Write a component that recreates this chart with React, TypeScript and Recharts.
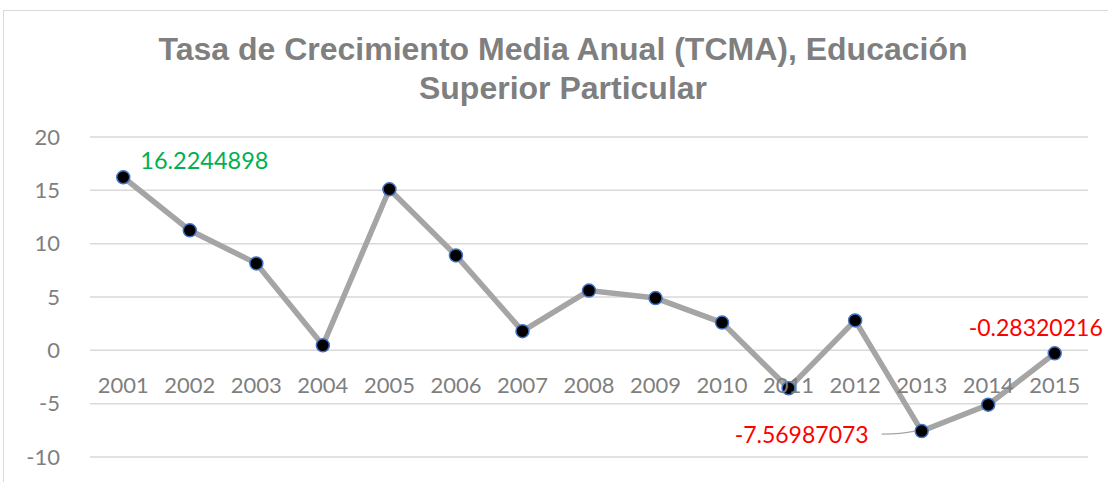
import React from 'react';
import {
  LineChart,
  Line,
  XAxis,
  YAxis,
  CartesianGrid,
  LabelList,
} from 'recharts';

const YEARS = [
  '2001', '2002', '2003', '2004', '2005', '2006', '2007', '2008',
  '2009', '2010', '2011', '2012', '2013', '2014', '2015',
];

const TCMA = [
  16.2244898, 11.25, 8.15, 0.47, 15.1, 8.9, 1.8, 5.6,
  4.9, 2.6, -3.56, 2.8, -7.56987073, -5.1, -0.28320216,
];

const Y_TICKS = [-10, -5, 0, 5, 10, 15, 20];

const data = YEARS.map((year, i) => ({ year, value: TCMA[i] }));

const AXIS_COLOR = '#7f7f7f';
const FONT = 'Lato, "Open Sans", sans-serif';

function YearTick(props: any) {
  const { x, y, payload } = props;
  return (
    <text
      x={x}
      y={y - 72}
      textAnchor="middle"
      fill={AXIS_COLOR}
      fontSize={22}
      fontFamily={FONT}
    >
      {payload.value}
    </text>
  );
}

// only three points carry a label, each placed like in the source sheet
function PointLabel(props: any) {
  const { x, y, index, value } = props;
  const text = String(value);
  if (index === 0) {
    return (
      <text x={x + 17} y={y - 8} fill="#00b050" fontSize={23.5} fontFamily={FONT}>
        {text}
      </text>
    );
  }
  if (index === 12) {
    return (
      <g>
        <path
          d={`M ${x - 40} ${y + 3} Q ${x - 20} ${y + 3} ${x - 7} ${y}`}
          stroke="#a5a5a5"
          strokeWidth={1.2}
          fill="none"
        />
        <text
          x={x - 53}
          y={y + 12}
          textAnchor="end"
          fill="#ff0000"
          fontSize={23}
          fontFamily={FONT}
        >
          {text}
        </text>
      </g>
    );
  }
  if (index === 14) {
    return (
      <text
        x={x + 48}
        y={y - 17}
        textAnchor="end"
        fill="#ff0000"
        fontSize={23}
        fontFamily={FONT}
      >
        {text}
      </text>
    );
  }
  return null;
}

export default function App() {
  return (
    <div
      style={{
        position: 'absolute',
        left: 0,
        top: 0,
        width: 1108,
        height: 482,
        background: '#fff',
        overflow: 'hidden',
      }}
    >
      <div
        style={{
          position: 'absolute',
          left: 3,
          top: 10,
          width: 1120,
          height: 500,
          border: '1px solid #d9d9d9',
        }}
      />
      <div
        style={{
          position: 'absolute',
          left: 0,
          top: 30,
          width: 1126,
          textAlign: 'center',
          fontFamily: '"Liberation Sans", Arial, sans-serif',
          fontWeight: 'bold',
          fontSize: 32,
          lineHeight: '39px',
          color: AXIS_COLOR,
        }}
      >
        Tasa de Crecimiento Media Anual (TCMA), Educación
        <br />
        Superior Particular
      </div>
      <div style={{ position: 'absolute', left: 0, top: 0 }}>
        <LineChart
          width={1108}
          height={482}
          data={data}
          margin={{ top: 137, right: 20, bottom: 25, left: 0 }}
        >
          <CartesianGrid vertical={false} stroke="#d9d9d9" strokeWidth={1.5} />
          <XAxis
            dataKey="year"
            scale="band"
            axisLine={false}
            tickLine={false}
            tick={<YearTick />}
            interval={0}
            height={0.001}
          />
          <YAxis
            domain={[-10, 20]}
            ticks={Y_TICKS}
            width={90}
            axisLine={false}
            tickLine={false}
            tickMargin={24}
            tick={{ fill: AXIS_COLOR, fontSize: 22, fontFamily: FONT }}
          />
          <Line
            type="linear"
            dataKey="value"
            stroke="#a5a5a5"
            strokeWidth={5.5}
            dot={{ r: 6.5, fill: '#000', stroke: '#4472c4', strokeWidth: 1.5 }}
            isAnimationActive={false}
          >
            <LabelList dataKey="value" content={<PointLabel />} />
          </Line>
        </LineChart>
      </div>
    </div>
  );
}
